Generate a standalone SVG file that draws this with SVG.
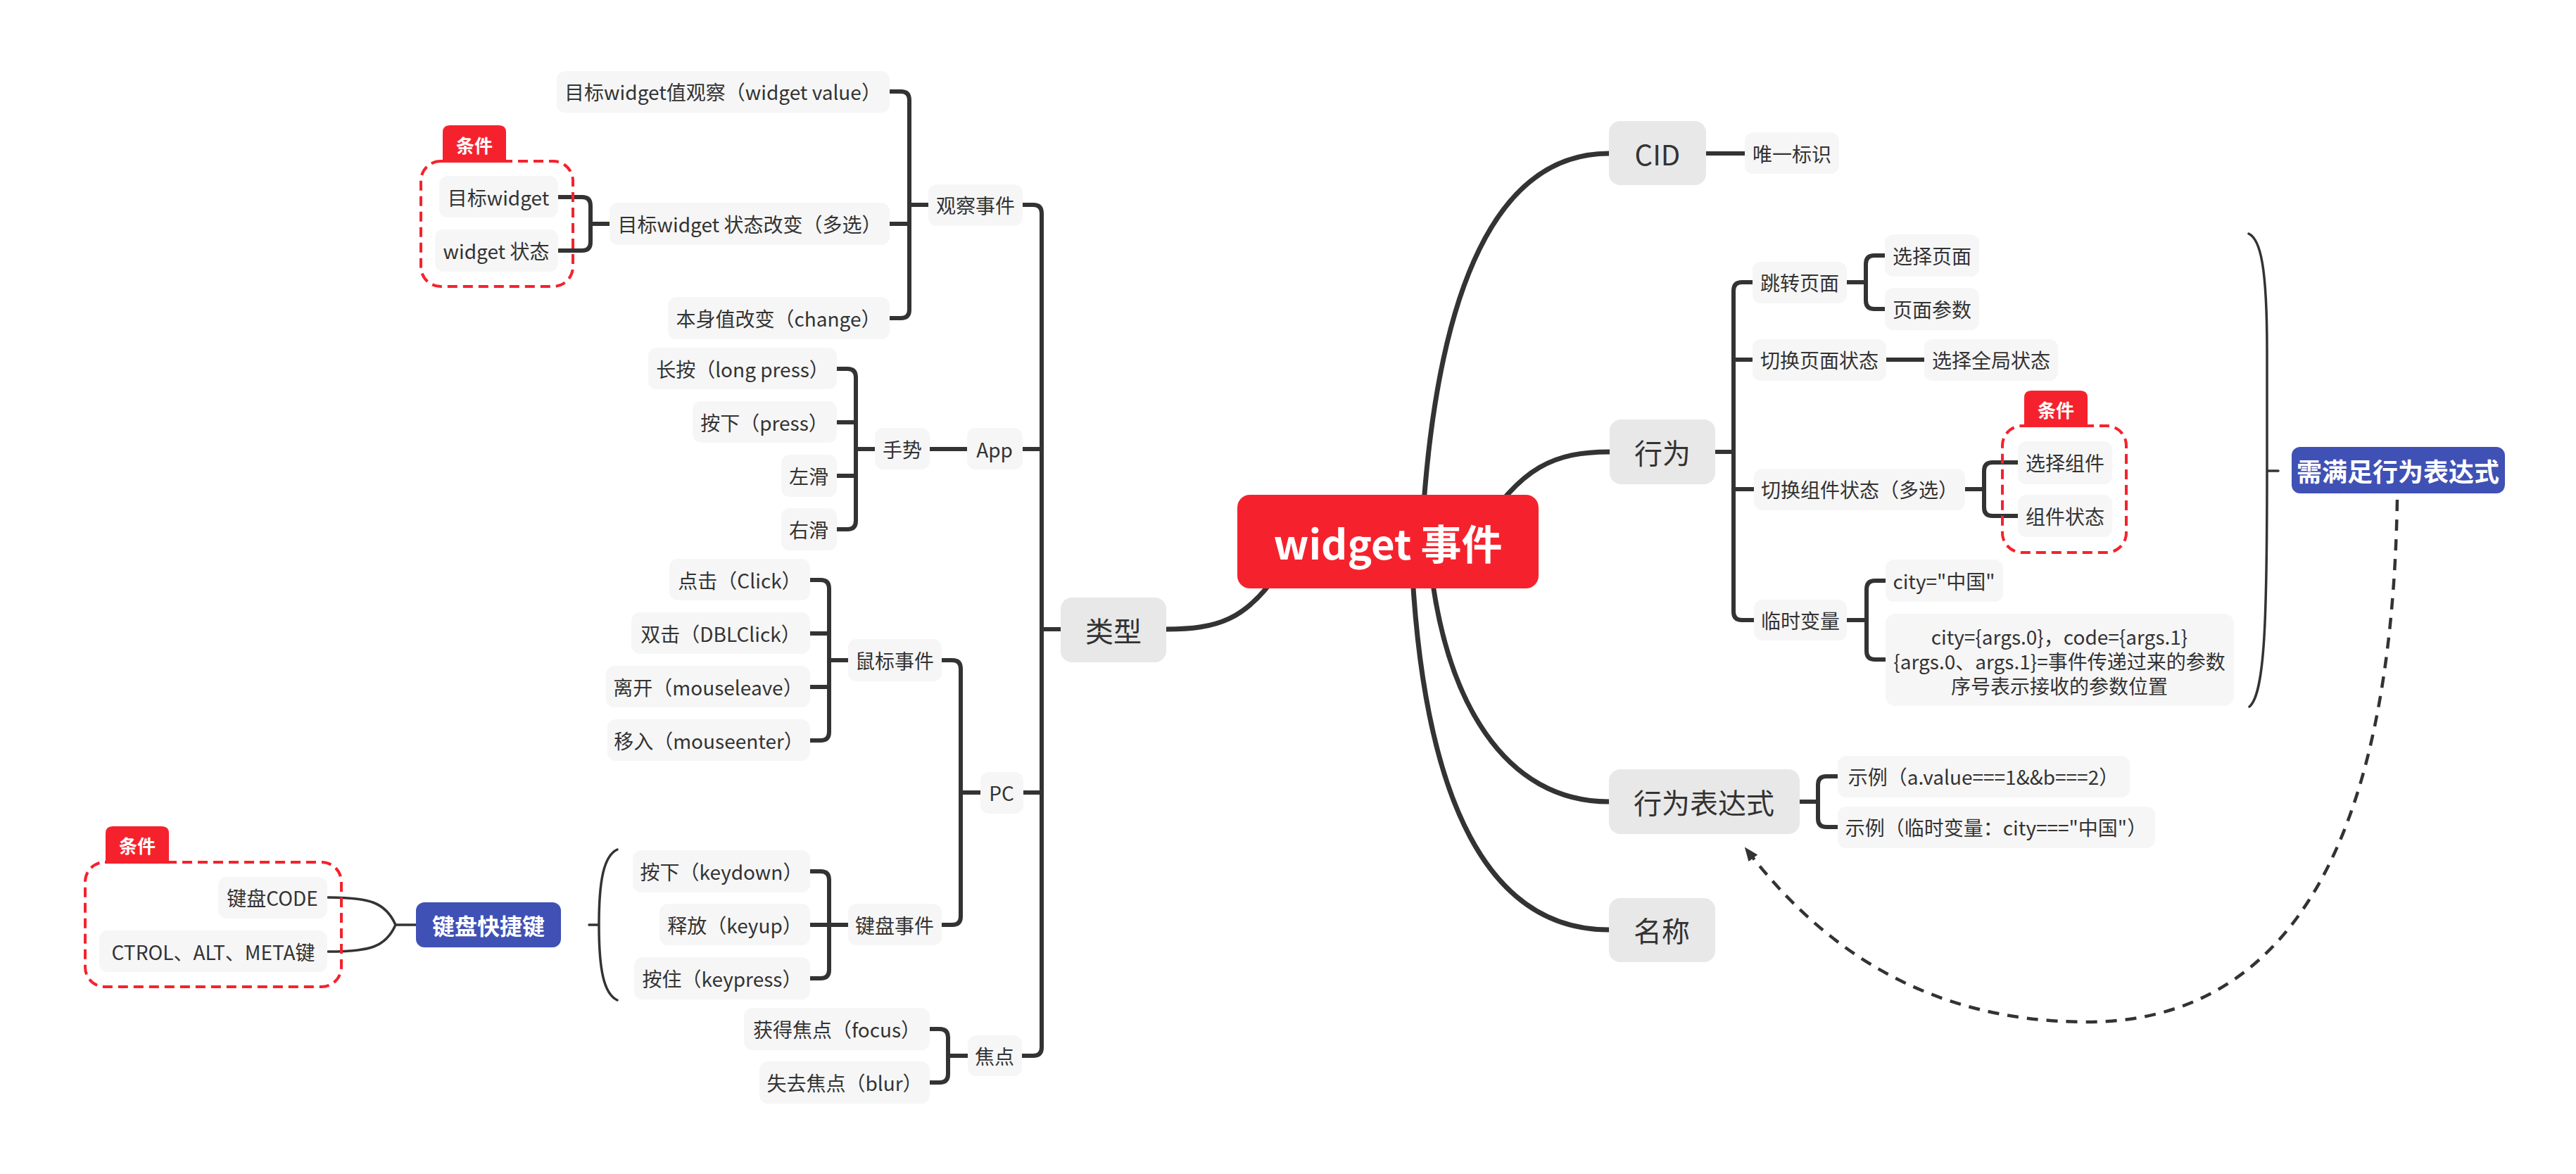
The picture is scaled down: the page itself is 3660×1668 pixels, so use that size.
<svg xmlns="http://www.w3.org/2000/svg" width="3660" height="1668" viewBox="0 0 3660 1668">
<style>
text{font-family:"Noto Sans CJK SC","Noto Sans",sans-serif;fill:#333;text-anchor:middle;dominant-baseline:central}
.s rect{fill:#F6F6F6}
.s text{font-size:28px}
.m rect{fill:#E8E8E8}
.m text{font-size:40px}
.b rect{fill:#3F51B5}
.b text{fill:#fff;font-weight:bold}
.ln{fill:none;stroke:#333;stroke-width:6;stroke-linejoin:round}
.mn{fill:none;stroke:#333;stroke-width:7}
.br{fill:none;stroke:#333;stroke-width:3.5;stroke-linecap:round}
.dash{fill:none;stroke:#F5222D;stroke-width:4;stroke-dasharray:14 8}
.tag path{fill:#F5222D}
.tag text{fill:#fff;font-size:26px;font-weight:bold}
</style>
<defs>
<marker id="arr" viewBox="0 0 10 10" refX="9" refY="5" markerWidth="6" markerHeight="6" orient="auto" markerUnits="userSpaceOnUse" style="overflow:visible">
<path d="M0,0 L10,5 L0,10 z" fill="#333" transform="scale(2.2) translate(-5,-5) translate(5,5)"/>
</marker>
<marker id="ah" viewBox="0 0 20 16" refX="18" refY="8" markerWidth="20" markerHeight="16" orient="auto" markerUnits="userSpaceOnUse">
<path d="M0,0 L20,8 L0,16 z" fill="#333"/>
</marker>
</defs>
<rect width="3660" height="1668" fill="#fff"/>

<g id="connectors">
<!-- center to main -->
<path class="mn" d="M1657 894 C1730 894 1770 880 1815 815"/>
<path class="mn" d="M2020 760 C2040 400 2130 218 2286 218"/>
<path class="mn" d="M2100 760 C2160 662 2210 642 2287 642"/>
<path class="mn" d="M2030 780 C2050 1000 2140 1139 2286 1139"/>
<path class="mn" d="M2005 780 C2020 1150 2120 1321 2286 1321"/>
<!-- 类型 trunk -->
<path class="ln" d="M1453 291 H1468 Q1480 291 1480 303 V1488 Q1480 1500 1468 1500 H1452"/>
<path class="ln" d="M1453 638 H1480 M1454 1126 H1480 M1480 894 H1508"/>
<!-- 观察事件 -->
<path class="ln" d="M1264 130 H1280 Q1292 130 1292 142 V440 Q1292 452 1280 452 H1264"/>
<path class="ln" d="M1264 318 H1292 M1292 291 H1319"/>
<!-- 目标widget 状态改变 -->
<path class="ln" d="M793 280 H827 Q839 280 839 292 V344 Q839 356 827 356 H793"/>
<path class="ln" d="M839 318 H866"/>
<!-- 手势 -->
<path class="ln" d="M1189 524 H1204 Q1216 524 1216 536 V740 Q1216 752 1204 752 H1189"/>
<path class="ln" d="M1189 600 H1216 M1189 676 H1216 M1216 638 H1243 M1321 638 H1374"/>
<!-- 鼠标事件 -->
<path class="ln" d="M1151 824 H1166 Q1178 824 1178 836 V1040 Q1178 1052 1166 1052 H1151"/>
<path class="ln" d="M1151 900 H1178 M1151 976 H1178 M1178 938 H1205"/>
<!-- 键盘事件 -->
<path class="ln" d="M1151 1238 H1166 Q1178 1238 1178 1250 V1378 Q1178 1390 1166 1390 H1151"/>
<path class="ln" d="M1151 1314 H1205"/>
<!-- PC -->
<path class="ln" d="M1338 938 H1353 Q1365 938 1365 950 V1302 Q1365 1314 1353 1314 H1338"/>
<path class="ln" d="M1365 1126 H1393"/>
<!-- 焦点 -->
<path class="ln" d="M1321 1462 H1335 Q1347 1462 1347 1474 V1526 Q1347 1538 1335 1538 H1321"/>
<path class="ln" d="M1347 1500 H1375"/>
<!-- keyboard shortcut -->
<path class="br" d="M877 1207 C858 1216 851 1250 851 1314 C851 1378 858 1412 877 1421 M851 1314 H837"/>
<path class="br" d="M591 1314 H562 C548 1282 525 1275 466 1275 M562 1314 C548 1346 525 1352 466 1352"/>
<!-- right side -->
<path class="ln" d="M2424 218 H2479"/>
<path class="ln" d="M2490 401 H2475 Q2463 401 2463 413 V869 Q2463 881 2475 881 H2492"/>
<path class="ln" d="M2437 642 H2463 M2463 511 H2490 M2463 695 H2492"/>
<path class="ln" d="M2678 363 H2663 Q2651 363 2651 375 V427 Q2651 439 2663 439 H2678"/>
<path class="ln" d="M2624 401 H2651 M2680 511 H2734"/>
<path class="ln" d="M2867 657 H2831 Q2819 657 2819 669 V721 Q2819 733 2831 733 H2867"/>
<path class="ln" d="M2792 695 H2819"/>
<path class="ln" d="M2679 825 H2664 Q2652 825 2652 837 V925 Q2652 937 2664 937 H2679"/>
<path class="ln" d="M2624 881 H2652"/>
<path class="ln" d="M2611 1103 H2595 Q2583 1103 2583 1115 V1163 Q2583 1175 2595 1175 H2611"/>
<path class="ln" d="M2557 1139 H2583"/>
<path class="br" d="M3195 332 C3212 340 3221 380 3221 500 L3221 669 C3221 880 3218 985 3196 1004 M3221 669 H3237"/>
<path fill="none" stroke="#333" stroke-width="4.5" stroke-dasharray="16 12" d="M3406 710 C3398 1200 3250 1455 2960 1452 C2740 1450 2590 1350 2480 1205" marker-end="url(#ah)"/>
</g>

<g id="n-center"><rect x="1758" y="703" width="428" height="133" rx="18" fill="#F5222D"/><text x="1972" y="770" font-size="58" font-weight="bold" fill="#fff" style="fill:#fff">widget 事件</text></g>

<g id="n-type" class="m"><rect x="1507" y="849" width="150" height="92" rx="16"/><text x="1582" y="895">类型</text></g>
<g id="n-obs" class="s"><rect x="1319" y="262" width="134" height="59" rx="12"/><text x="1386" y="291">观察事件</text></g>
<g id="n-watchval" class="s"><rect x="791" y="101" width="473" height="59" rx="12"/><text x="1027" y="130">目标widget值观察（widget value）</text></g>
<g id="n-watchstate" class="s"><rect x="866" y="288" width="398" height="60" rx="12"/><text x="1065" y="318">目标widget 状态改变（多选）</text></g>
<g id="n-self" class="s"><rect x="949" y="422" width="315" height="60" rx="12"/><text x="1106" y="452">本身值改变（change）</text></g>
<g id="n-tw" class="s"><rect x="624" y="250" width="169" height="59" rx="12"/><text x="708" y="280">目标widget</text></g>
<g id="n-ws" class="s"><rect x="618" y="326" width="175" height="60" rx="12"/><text x="705" y="356">widget 状态</text></g>
<g id="n-app" class="s"><rect x="1374" y="608" width="79" height="59" rx="12"/><text x="1413" y="638">App</text></g>
<g id="n-gesture" class="s"><rect x="1243" y="608" width="78" height="59" rx="12"/><text x="1282" y="638">手势</text></g>
<g id="n-long" class="s"><rect x="921" y="494" width="268" height="59" rx="12"/><text x="1055" y="524">长按（long press）</text></g>
<g id="n-press" class="s"><rect x="984" y="570" width="205" height="59" rx="12"/><text x="1086" y="600">按下（press）</text></g>
<g id="n-left" class="s"><rect x="1110" y="646" width="79" height="60" rx="12"/><text x="1149" y="676">左滑</text></g>
<g id="n-right" class="s"><rect x="1110" y="722" width="79" height="60" rx="12"/><text x="1149" y="752">右滑</text></g>
<g id="n-pc" class="s"><rect x="1393" y="1097" width="61" height="59" rx="12"/><text x="1423" y="1126">PC</text></g>
<g id="n-mouse" class="s"><rect x="1205" y="908" width="133" height="60" rx="12"/><text x="1271" y="938">鼠标事件</text></g>
<g id="n-click" class="s"><rect x="951" y="794" width="200" height="59" rx="12"/><text x="1051" y="824">点击（Click）</text></g>
<g id="n-dbl" class="s"><rect x="897" y="870" width="254" height="59" rx="12"/><text x="1024" y="900">双击（DBLClick）</text></g>
<g id="n-leave" class="s"><rect x="861" y="946" width="290" height="59" rx="12"/><text x="1006" y="976">离开（mouseleave）</text></g>
<g id="n-enter" class="s"><rect x="863" y="1022" width="288" height="59" rx="12"/><text x="1007" y="1052">移入（mouseenter）</text></g>
<g id="n-kbd" class="s"><rect x="1205" y="1284" width="133" height="59" rx="12"/><text x="1271" y="1314">键盘事件</text></g>
<g id="n-keydown" class="s"><rect x="899" y="1208" width="252" height="60" rx="12"/><text x="1025" y="1238">按下（keydown）</text></g>
<g id="n-keyup" class="s"><rect x="937" y="1284" width="214" height="59" rx="12"/><text x="1044" y="1314">释放（keyup）</text></g>
<g id="n-keypress" class="s"><rect x="901" y="1360" width="250" height="60" rx="12"/><text x="1026" y="1390">按住（keypress）</text></g>
<g id="n-focusp" class="s"><rect x="1375" y="1471" width="77" height="58" rx="12"/><text x="1413" y="1500">焦点</text></g>
<g id="n-focus" class="s"><rect x="1057" y="1432" width="264" height="60" rx="12"/><text x="1189" y="1462">获得焦点（focus）</text></g>
<g id="n-blur" class="s"><rect x="1079" y="1508" width="242" height="60" rx="12"/><text x="1200" y="1538">失去焦点（blur）</text></g>
<g id="n-shortcut" class="b"><rect x="591" y="1282" width="206" height="64" rx="12"/><text x="694" y="1314" font-size="32">键盘快捷键</text></g>
<g id="n-code" class="s"><rect x="310" y="1246" width="155" height="59" rx="12"/><text x="387" y="1275">键盘CODE</text></g>
<g id="n-ctrl" class="s"><rect x="141" y="1322" width="324" height="59" rx="12"/><text x="303" y="1352">CTROL、ALT、META键</text></g>

<g id="n-cid" class="m"><rect x="2286" y="172" width="138" height="91" rx="16"/><text x="2355" y="218">CID</text></g>
<g id="n-uid" class="s"><rect x="2479" y="188" width="134" height="59" rx="12"/><text x="2546" y="218">唯一标识</text></g>
<g id="n-act" class="m"><rect x="2287" y="596" width="150" height="92" rx="16"/><text x="2362" y="642">行为</text></g>
<g id="n-jump" class="s"><rect x="2490" y="372" width="134" height="59" rx="12"/><text x="2557" y="401">跳转页面</text></g>
<g id="n-selpage" class="s"><rect x="2678" y="333" width="134" height="60" rx="12"/><text x="2745" y="363">选择页面</text></g>
<g id="n-pageparam" class="s"><rect x="2678" y="409" width="134" height="60" rx="12"/><text x="2745" y="439">页面参数</text></g>
<g id="n-swpage" class="s"><rect x="2490" y="482" width="190" height="59" rx="12"/><text x="2585" y="511">切换页面状态</text></g>
<g id="n-global" class="s"><rect x="2734" y="482" width="190" height="59" rx="12"/><text x="2829" y="511">选择全局状态</text></g>
<g id="n-swcomp" class="s"><rect x="2492" y="666" width="300" height="59" rx="12"/><text x="2642" y="695">切换组件状态（多选）</text></g>
<g id="n-selcomp" class="s"><rect x="2867" y="627" width="134" height="61" rx="12"/><text x="2934" y="657">选择组件</text></g>
<g id="n-compstate" class="s"><rect x="2867" y="703" width="134" height="60" rx="12"/><text x="2934" y="733">组件状态</text></g>
<g id="n-tmp" class="s"><rect x="2492" y="852" width="132" height="58" rx="12"/><text x="2558" y="881">临时变量</text></g>
<g id="n-city" class="s"><rect x="2679" y="795" width="167" height="60" rx="12"/><text x="2762" y="825">city="中国"</text></g>
<g id="n-args" class="s"><rect x="2679" y="872" width="495" height="131" rx="14"/><text x="2926" y="904">city={args.0}，code={args.1}</text><text x="2926" y="939">{args.0、args.1}=事件传递过来的参数</text><text x="2926" y="974">序号表示接收的参数位置</text></g>
<g id="n-expr" class="m"><rect x="2286" y="1093" width="271" height="92" rx="16"/><text x="2421" y="1139">行为表达式</text></g>
<g id="n-ex1" class="s"><rect x="2611" y="1074" width="415" height="59" rx="12"/><text x="2818" y="1103">示例（a.value===1&amp;&amp;b===2）</text></g>
<g id="n-ex2" class="s"><rect x="2611" y="1146" width="451" height="59" rx="12"/><text x="2836" y="1175">示例（临时变量：city==="中国"）</text></g>
<g id="n-name" class="m"><rect x="2286" y="1276" width="151" height="91" rx="16"/><text x="2361" y="1321">名称</text></g>
<g id="n-need" class="b"><rect x="3256" y="635" width="303" height="66" rx="12"/><text x="3407" y="668" font-size="36">需满足行为表达式</text></g>

<g id="boundaries">
<rect class="dash" x="598" y="229" width="216" height="178" rx="28"/>
<rect class="dash" x="121" y="1225" width="364" height="177" rx="28"/>
<rect class="dash" x="2845" y="605" width="176" height="180" rx="28"/>
</g>
<g id="tag1" class="tag"><path d="M629 231 V188 Q629 178 639 178 H709 Q719 178 719 188 V231 Z"/><text x="674" y="205">条件</text></g>
<g id="tag2" class="tag"><path d="M150 1227 V1184 Q150 1174 160 1174 H230 Q240 1174 240 1184 V1227 Z"/><text x="195" y="1200">条件</text></g>
<g id="tag3" class="tag"><path d="M2876 607 V565 Q2876 555 2886 555 H2956 Q2966 555 2966 565 V607 Z"/><text x="2921" y="581">条件</text></g>
</svg>
